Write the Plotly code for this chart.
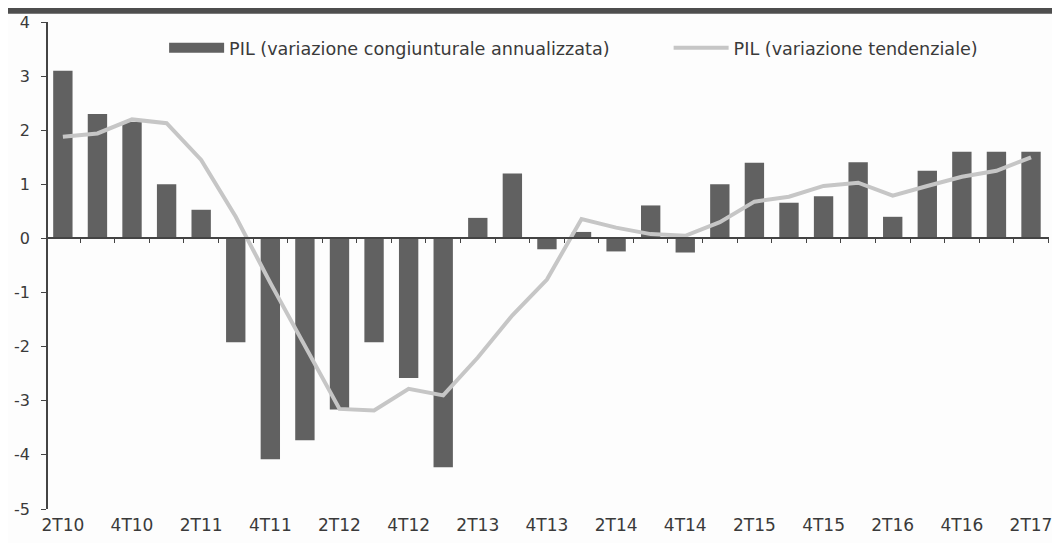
import plotly.graph_objects as go

# quarters 2T10 .. 2T17
quarters = ["2T10", "3T10", "4T10", "1T11", "2T11", "3T11", "4T11", "1T12", "2T12", "3T12",
            "4T12", "1T13", "2T13", "3T13", "4T13", "1T14", "2T14", "3T14", "4T14", "1T15",
            "2T15", "3T15", "4T15", "1T16", "2T16", "3T16", "4T16", "1T17", "2T17"]

# PIL, variazione congiunturale annualizzata (bars)
pil_cong = [3.1, 2.3, 2.15, 1.0, 0.53, -1.92, -4.08, -3.73, -3.16, -1.92,
            -2.58, -4.23, 0.38, 1.2, -0.2, 0.12, -0.24, 0.61, -0.26, 1.0,
            1.4, 0.66, 0.78, 1.41, 0.4, 1.25, 1.6, 1.6, 1.6]

# PIL, variazione tendenziale (line)
pil_tend = [1.88, 1.94, 2.2, 2.13, 1.45, 0.4, -0.82, -2.0, -3.15, -3.18,
            -2.78, -2.9, -2.2, -1.42, -0.76, 0.36, 0.2, 0.08, 0.05, 0.3,
            0.68, 0.77, 0.97, 1.03, 0.79, 0.97, 1.14, 1.25, 1.5]

y_ticks = [4, 3, 2, 1, 0, -1, -2, -3, -4, -5]

BAR_COLOR = "#616161"
LINE_COLOR = "#c6c6c6"
TEXT_COLOR = "#3a3a3a"
AXIS_COLOR = "#444444"

x_idx = list(range(len(quarters)))
x_range = [-0.43, 28.52]

fig = go.Figure()
fig.add_trace(go.Bar(
    x=x_idx, y=pil_cong,
    name="PIL (variazione congiunturale annualizzata)",
    marker=dict(color=BAR_COLOR, line=dict(width=0)),
    width=0.56, showlegend=False,
))
# legend proxy so the bar key is a wide block like in the original
fig.add_trace(go.Scatter(
    x=[None], y=[None], mode="lines",
    name="PIL (variazione congiunturale annualizzata)",
    line=dict(color=BAR_COLOR, width=16), legend="legend",
))
fig.add_trace(go.Scatter(
    x=x_idx, y=pil_tend, mode="lines",
    name="PIL (variazione tendenziale)",
    line=dict(color=LINE_COLOR, width=4), legend="legend2",
))

# invisible trace on the second x axis so the zero-line ticks get drawn
fig.add_trace(go.Scatter(x=x_idx, y=[0] * len(x_idx), xaxis="x2", mode="none",
                         showlegend=False, hoverinfo="skip"))

legend_common = dict(
    orientation="h", yanchor="middle", y=0.947, xanchor="left",
    bgcolor="rgba(0,0,0,0)", font=dict(size=17.6, color=TEXT_COLOR),
    itemwidth=55,
)

# the page body adds an 8px margin, so the figure is sized 8px smaller
fig.update_layout(
    width=1052, height=535,
    margin=dict(l=40, r=8, t=14, b=33),
    paper_bgcolor="#fdfdfd",
    plot_bgcolor="#fdfdfd",
    font=dict(family="DejaVu Sans", size=17, color=TEXT_COLOR),
    showlegend=True,
    legend=dict(x=0.116, **legend_common),
    legend2=dict(x=0.620, **legend_common),
    xaxis=dict(
        range=x_range,
        tickvals=x_idx[::2], ticktext=quarters[::2],
        showline=False, showgrid=False, zeroline=False, ticks="",
        tickfont=dict(size=17, color=TEXT_COLOR),
        ticklabeloverflow="allow", ticklabelstandoff=4,
    ),
    xaxis2=dict(
        overlaying="x", anchor="free", position=5 / 9,
        range=x_range,
        tickvals=[i + 0.5 for i in x_idx], showticklabels=False,
        showline=True, linecolor=AXIS_COLOR, linewidth=1.5,
        ticks="outside", ticklen=4, tickcolor=AXIS_COLOR,
        showgrid=False, zeroline=False,
    ),
    yaxis=dict(
        range=[-5, 4],
        tickvals=y_ticks, ticktext=[str(v) for v in y_ticks],
        showline=True, linecolor=AXIS_COLOR, linewidth=1.5,
        ticks="outside", ticklen=5, tickcolor=AXIS_COLOR,
        ticklabelstandoff=8, automargin=False,
        showgrid=False, zeroline=False,
        tickfont=dict(size=16, color=TEXT_COLOR),
    ),
    shapes=[dict(type="rect", xref="paper", yref="paper", x0=-0.05, x1=1.01,
                 y0=1.017, y1=1.04, fillcolor="#4e4e4e", line=dict(width=0))],
)

fig.write_html("out.html")
